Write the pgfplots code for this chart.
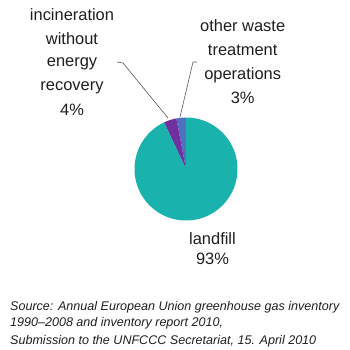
\documentclass[border=0pt]{standalone}
\usepackage{pgfplots}
\pgfplotsset{compat=1.18}
\usepackage{fontspec}
\setmainfont{Liberation Sans}
\definecolor{cTeal}{RGB}{26,178,172}
\definecolor{cPurple}{RGB}{112,48,160}
\definecolor{cBlue}{RGB}{80,112,192}
\definecolor{cText}{RGB}{30,30,30}
% shares in percent, counter-clockwise from 12 o'clock
\def\pOther{3}
\def\pIncin{4}
\def\pLand{93}
\begin{document}
\begin{tikzpicture}[
  lab/.style={anchor=base,inner sep=0pt,text=cText,font=\fontsize{16.5}{20}\selectfont},
  src/.style={anchor=base west,inner sep=0pt,text=cText,font=\fontsize{12.6}{15}\selectfont\itshape}]
\useasboundingbox (0,0) rectangle (350bp,350bp);
\begin{axis}[at={(0,0)},anchor=south west,width=350bp,height=350bp,scale only axis,
  xmin=0,xmax=350,ymin=0,ymax=350,hide axis,clip=false]
\pgfmathsetmacro{\aA}{90}
\pgfmathsetmacro{\aB}{90+3.6*\pOther}
\pgfmathsetmacro{\aC}{\aB+3.6*\pIncin}
\pgfmathsetmacro{\aD}{\aC+3.6*\pLand}
\addplot[draw=none,fill=cBlue,domain=\aA:\aB,samples=10] ({186+51.5*cos(x)},{181+51.5*sin(x)}) -- (axis cs:186,181) -- cycle;
\addplot[draw=none,fill=cPurple,domain=\aB:\aC,samples=10] ({186+51.5*cos(x)},{181+51.5*sin(x)}) -- (axis cs:186,181) -- cycle;
\addplot[draw=none,fill=cTeal,domain=\aC:\aD,samples=120] ({186+51.5*cos(x)},{181+51.5*sin(x)}) -- (axis cs:186,181) -- cycle;
% leader lines
\draw[gray!70!black,line width=0.6bp] (axis cs:117,288) -- (axis cs:123,287) -- (axis cs:168,232);
\draw[gray!70!black,line width=0.6bp] (axis cs:197,288) -- (axis cs:193,288) -- (axis cs:180,233);
% labels
\node[lab] at (axis cs:72,329.3) {incineration};
\node[lab] at (axis cs:72,306) {without};
\node[lab] at (axis cs:72,283.3) {energy};
\node[lab] at (axis cs:72,259.3) {recovery};
\node[lab] at (axis cs:72,235) {\pIncin\%};
\node[lab] at (axis cs:242.7,318.3) {other waste};
\node[lab] at (axis cs:242.7,295) {treatment};
\node[lab] at (axis cs:242.7,271) {operations};
\node[lab] at (axis cs:242.7,246.7) {\pOther\%};
\node[lab] at (axis cs:212.5,105.7) {landfill};
\node[lab] at (axis cs:212.5,85.7) {\pLand\%};
\node[src] at (axis cs:10,40) {Source: Annual European Union greenhouse gas inventory};
\node[src] at (axis cs:10,23.3) {1990--2008 and inventory report 2010,};
\node[src] at (axis cs:10,5.7) {Submission to the UNFCCC Secretariat, 15. April 2010};
\end{axis}
\end{tikzpicture}
\end{document}
